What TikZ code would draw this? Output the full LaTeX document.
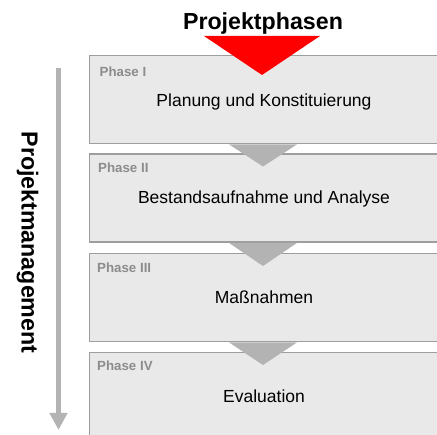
\documentclass[tikz,border=0pt]{standalone}
\usepackage{fontspec}
\setmainfont{Liberation Sans}
\usetikzlibrary{calc,arrows.meta}
\definecolor{boxfill}{HTML}{E9E9E9}
\definecolor{boxline}{HTML}{9E9E9E}
\definecolor{trigray}{HTML}{B3B3B3}
\definecolor{labgray}{HTML}{8C8C8C}
\definecolor{tred}{HTML}{FF0000}
\tikzset{
  phasebox/.style={draw=boxline, line width=1.4pt, fill=boxfill, anchor=north west,
    minimum width=380pt, minimum height=88pt, inner sep=0pt},
  phaselab/.style={anchor=base west, inner sep=0pt, text=labgray,
    font=\fontsize{13.3}{15}\selectfont\bfseries},
  phasetext/.style={anchor=base, inner sep=0pt, font=\fontsize{17.5}{20}\selectfont},
  flowtri/.style={fill=trigray},
  mainlab/.style={inner sep=0pt, font=\fontsize{23.2}{27}\selectfont\bfseries},
}
\begin{document}
\begin{tikzpicture}[x=1pt,y=-1pt]
\useasboundingbox (0,0) rectangle (437,435);
\clip (0,0) rectangle (437,435);
% boxes
\node[phasebox] (p1) at (88.5,55) {};
\node[phasebox] (p2) at (88.5,153.5) {};
\node[phasebox] (p3) at (88.5,253) {};
\node[phasebox] (p4) at (88.5,352) {};
% connector triangles
\foreach \a/\b in {p1/p2,p2/p3,p3/p4}{
  \fill[flowtri] ($(\a.south west)+(140.5,0)$) -- ($(\a.south west)+(208.5,0)$)
     -- ($(\b.north west)+(174.5,13)$) -- cycle;
}
% title and red triangle
\node[mainlab, anchor=base] (title) at (263,30) {Projektphasen};
\coordinate (rtip) at ($(p1.north west)+(173.5,20)$);
\fill[tred] (204,36) -- (320,36) -- (rtip) -- cycle;
% labels
\node[phaselab] (l1) at (99.5,77) {Phase I};
\node[phaselab] (l2) at (98,173) {Phase II};
\node[phaselab] (l3) at (97,273) {Phase III};
\node[phaselab] (l4) at (97,371) {Phase IV};
\node[phasetext] (t1) at (264,107) {Planung und Konstituierung};
\node[phasetext] (t2) at (264,204) {Bestandsaufnahme und Analyse};
\node[phasetext] (t3) at (264,304) {Maßnahmen};
\node[phasetext] (t4) at (264,403) {Evaluation};
% left arrow
\coordinate (astart) at (58.5,68);
\coordinate (aend) at (58.5,430);
\draw[trigray, line width=5.5pt, -{Triangle[width=17pt,length=17pt]}] (astart) -- (aend);
\node[mainlab, rotate=-90] (pm) at (27.5,242.5) {Projektmanagement};
\end{tikzpicture}
\end{document}
